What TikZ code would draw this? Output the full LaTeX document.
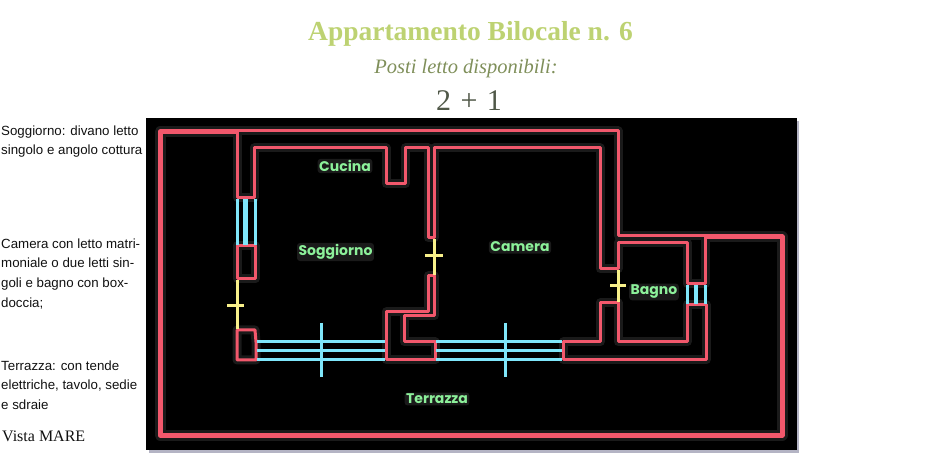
\documentclass[tikz,border=0pt]{standalone}
\usepackage{fontspec}
\setmainfont{Liberation Serif}
\newfontfamily\armsans{Liberation Sans}
\newfontfamily\roomfont{Poppins}
\definecolor{wallc}{HTML}{F2586C}
\definecolor{winc}{HTML}{7FE6FA}
\definecolor{doorc}{HTML}{F8F08A}
\definecolor{roomc}{HTML}{8CF09A}
\definecolor{haloc}{HTML}{1A1A1A}
\definecolor{titlec}{HTML}{BDD272}
\definecolor{subc}{HTML}{7F8F5A}
\definecolor{numc}{HTML}{505848}
\definecolor{notec}{HTML}{111111}
\definecolor{shadowc}{HTML}{B4B4C4}
\newcommand{\thinwalls}[1]{%
  \draw[#1] (237,131) -- (618,131) -- (618,236) -- (705,236) -- (705,284) -- (687,284) -- (687,243) -- (618,243) -- (618,269) -- (600,269) -- (600,148) -- (434,148) -- (434,238) -- (428,238) -- (428,148) -- (405,148) -- (405,184) -- (386,184) -- (386,148) -- (254,148) -- (254,198) -- (237,198) -- cycle;
  \draw[#1] (237,246) -- (255,246) -- (255,279) -- (237,279) -- cycle;
  \draw[#1] (237,330) -- (255,330) -- (256,342) -- (256,360) -- (237,360) -- cycle;
  \draw[#1] (386,342) -- (386,312) -- (428,312) -- (428,276) -- (434,276) -- (434,316) -- (404,316) -- (404,342) -- (435,342) -- (435,360) -- (386,360) -- cycle;
  \draw[#1] (563,342) -- (600,342) -- (600,303) -- (618,303) -- (618,342) -- (687,342) -- (687,305) -- (706,305) -- (706,360) -- (563,360) -- cycle;
}
\tikzset{
  shadowbox/.style={fill=shadowc,draw=none},
  planbox/.style={fill=black,draw=none},
  thinwall/.style={draw=wallc,line width=3pt,line join=round},
  thickwall/.style={draw=wallc,line width=5pt,line join=round},
  halo/.style={draw=haloc,line width=9pt,line join=round},
  winline/.style={draw=winc,line width=3pt},
  doorline/.style={draw=doorc,line width=3pt},
  roomlabel/.style={font=\roomfont\bfseries\fontsize{14}{16}\selectfont,text=roomc,fill=haloc,rounded corners=3pt,inner sep=1.5pt},
  note/.style={font=\armsans\fontsize{13.3}{19.6}\selectfont,text=notec,align=left,anchor=north west,inner sep=0pt}
}
\begin{document}
\begin{tikzpicture}[x=1pt,y=-1pt]
\useasboundingbox (0,0) rectangle (940,470);
% plan background
\fill[shadowbox] (149,121) rectangle (799,453);
\fill[planbox] (146,118) rectangle (797,450);
% dark ghost lines
\thinwalls{halo}
\draw[draw=haloc,line width=11pt,line join=round] (237,132) -- (160,132) -- (160,435) -- (782,435) -- (782,237) -- (705,237);
% walls
\thinwalls{thinwall}
\draw[thickwall] (237,132) -- (160,132) -- (160,435) -- (782,435) -- (782,237) -- (705,237);
% windows
\foreach \wy in {342,351,360} {
  \draw[winline] (257,\wy) -- (385,\wy);
  \draw[winline] (436,\wy) -- (562,\wy);
}
\draw[winline] (321,323) -- (321,377);
\draw[winline] (505,323) -- (505,377);
\foreach \wx in {237,255} \draw[winline] (\wx,199) -- (\wx,245);
\draw[draw=winc,line width=5pt] (245.5,199) -- (245.5,245);
\foreach \wx in {687,705} \draw[winline] (\wx,285) -- (\wx,304);
\draw[draw=winc,line width=4pt] (696,285) -- (696,304);
% doors
\draw[doorline] (237,280) -- (237,329) (227,306) -- (244,306);
\draw[doorline] (434,239) -- (434,275) (425,256) -- (443,256);
\draw[doorline] (618,270) -- (618,302) (610,286) -- (626,286);
% room labels
\node[roomlabel] (cucina) at (345,166) {Cucina};
\node[roomlabel] (soggiorno) at (335.5,252) {Soggiorno};
\node[roomlabel] (camera) at (520,247) {Camera};
\node[roomlabel] (bagno) at (654,292) {Bagno};
\node[roomlabel] (terrazza) at (437,399) {Terrazza};
% heading
\node[font=\bfseries\fontsize{27.5}{30}\selectfont,text=titlec,inner sep=0pt] (titolo) at (470.5,33.5) {Appartamento Bilocale n. 6};
\node[font=\itshape\fontsize{20.5}{24}\selectfont,text=subc,inner sep=0pt] (posti) at (466,69) {Posti letto disponibili:};
\node[font=\fontsize{30}{32}\selectfont,text=numc,inner sep=0pt] (numero) at (469,101) {2\hspace{2pt} + \hspace{2pt}1};
% side notes
\node[note] (n1) at (1,125.5) {Soggiorno: divano letto\\singolo e angolo cottura};
\node[note] (n2) at (1,238.5) {Camera con letto matri-\\moniale o due letti sin-\\goli e bagno con box-\\doccia;};
\node[note] (n3) at (1,360.5) {Terrazza: con tende\\elettriche, tavolo, sedie\\e sdraie};
\node[font=\fontsize{16}{18}\selectfont,text=notec,anchor=west,inner sep=0pt] (n4) at (2,436) {Vista MARE};
\end{tikzpicture}
\end{document}
